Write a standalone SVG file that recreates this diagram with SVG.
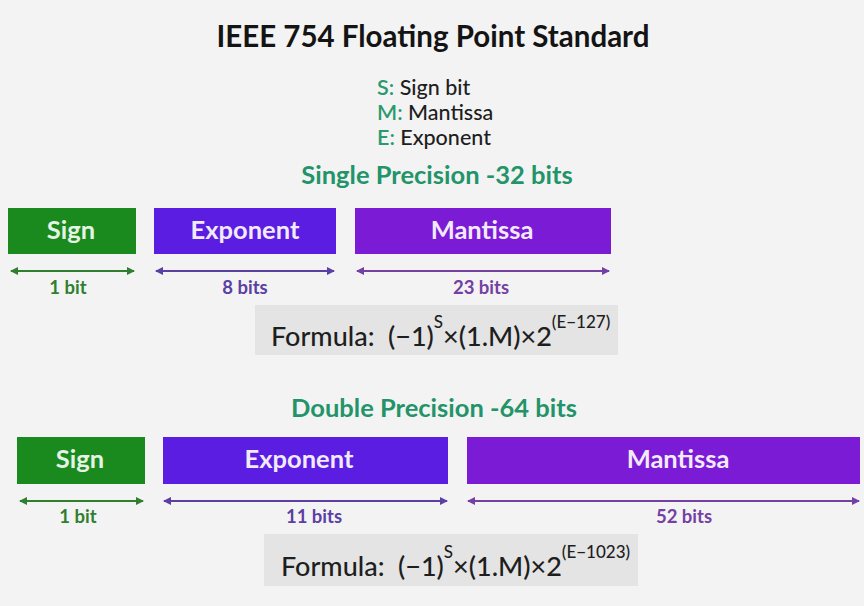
<svg xmlns="http://www.w3.org/2000/svg" width="864" height="606" viewBox="0 0 864 606">
<defs>
<style>
text{font-family:Lato,"Open Sans","Liberation Sans",sans-serif}
.title{font-size:29.5px;font-weight:700;fill:#141414;text-anchor:middle}
.leg{font-size:21.5px;font-weight:500;fill:#1e1e1e}
.legk{fill:#2a9a6e;font-weight:600}
.sub{font-size:25.5px;font-weight:700;fill:#23946a;text-anchor:middle}
.box{font-size:25.5px;font-weight:700;text-anchor:middle}
.lbl{font-size:18.5px;font-weight:700;text-anchor:middle}
.fbox{fill:#e4e4e4}
.f{fill:#1e1e1e;font-size:27px;font-weight:500}
.sup{font-size:17px}
.g{fill:#2f7f2f}
.b{fill:#5b3fa3}
.p{fill:#7440a3}
</style>
<marker id="ag" viewBox="0 0 8 8" refX="7" refY="4" markerWidth="8" markerHeight="8" markerUnits="userSpaceOnUse" orient="auto-start-reverse"><path d="M0,0 L8,4 L0,8 z" fill="#2f7f2f"/></marker>
<marker id="ab" viewBox="0 0 8 8" refX="7" refY="4" markerWidth="8" markerHeight="8" markerUnits="userSpaceOnUse" orient="auto-start-reverse"><path d="M0,0 L8,4 L0,8 z" fill="#5b3fa3"/></marker>
<marker id="ap" viewBox="0 0 8 8" refX="7" refY="4" markerWidth="8" markerHeight="8" markerUnits="userSpaceOnUse" orient="auto-start-reverse"><path d="M0,0 L8,4 L0,8 z" fill="#7440a3"/></marker>
</defs>
<rect width="864" height="606" fill="#f3f3f3"/>
<g id="header">
<text class="title" x="433" y="47">IEEE 754 Floating Point Standard</text>
<text class="leg" x="377" y="95"><tspan class="legk">S:</tspan> Sign bit</text>
<text class="leg" x="377" y="120"><tspan class="legk">M:</tspan> Mantissa</text>
<text class="leg" x="377" y="145"><tspan class="legk">E:</tspan> Exponent</text>
</g>
<g id="single">
<text class="sub" x="437" y="184">Single Precision -32 bits</text>
<g id="s-sign"><rect x="8" y="208" width="128" height="46" fill="#1a8a1f"/><text class="box" x="71" y="239" fill="#e4f3e4">Sign</text></g>
<g id="s-exp"><rect x="154" y="208" width="182" height="46" fill="#5b1de2"/><text class="box" x="245" y="239" fill="#f0eafb">Exponent</text></g>
<g id="s-man"><rect x="355" y="208" width="256" height="46" fill="#7c1bd6"/><text class="box" x="482" y="239" fill="#f2eafb">Mantissa</text></g>
<text class="lbl g" x="68" y="294">1 bit</text>
<text class="lbl b" x="245" y="294">8 bits</text>
<text class="lbl p" x="481" y="294">23 bits</text>
<g id="s-formula"><rect class="fbox" x="255" y="305" width="363" height="50"/>
<text class="f" x="271" y="346">Formula:<tspan x="388">(−1)</tspan><tspan class="sup" dy="-18">S</tspan><tspan dy="18">×(1.M)×2</tspan><tspan class="sup" dy="-18">(E−127)</tspan></text>
</g>
</g>
<g id="double">
<text class="sub" x="434" y="417">Double Precision -64 bits</text>
<g id="d-sign"><rect x="17" y="437" width="128" height="47" fill="#1a8a1f"/><text class="box" x="80" y="468" fill="#e4f3e4">Sign</text></g>
<g id="d-exp"><rect x="163" y="437" width="285" height="47" fill="#5b1de2"/><text class="box" x="299" y="468" fill="#f0eafb">Exponent</text></g>
<g id="d-man"><rect x="467" y="437" width="393" height="47" fill="#7c1bd6"/><text class="box" x="678" y="468" fill="#f2eafb">Mantissa</text></g>
<text class="lbl g" x="78" y="523">1 bit</text>
<text class="lbl b" x="314" y="523">11 bits</text>
<text class="lbl p" x="684" y="523">52 bits</text>
<g id="d-formula"><rect class="fbox" x="264" y="534" width="374" height="52"/>
<text class="f" x="281" y="576">Formula:<tspan x="398">(−1)</tspan><tspan class="sup" dy="-18">S</tspan><tspan dy="18">×(1.M)×2</tspan><tspan class="sup" dy="-18">(E−1023)</tspan></text>
</g>
</g>
<g id="connectors" stroke-width="2" fill="none">
<line x1="11" y1="271" x2="134" y2="271" stroke="#2f7f2f" marker-start="url(#ag)" marker-end="url(#ag)"/>
<line x1="156" y1="271" x2="334" y2="271" stroke="#5b3fa3" marker-start="url(#ab)" marker-end="url(#ab)"/>
<line x1="357" y1="271" x2="609" y2="271" stroke="#7440a3" marker-start="url(#ap)" marker-end="url(#ap)"/>
<line x1="20" y1="501" x2="143" y2="501" stroke="#2f7f2f" marker-start="url(#ag)" marker-end="url(#ag)"/>
<line x1="164" y1="501" x2="447" y2="501" stroke="#5b3fa3" marker-start="url(#ab)" marker-end="url(#ab)"/>
<line x1="468" y1="501" x2="859" y2="501" stroke="#7440a3" marker-start="url(#ap)" marker-end="url(#ap)"/>
</g>
</svg>
